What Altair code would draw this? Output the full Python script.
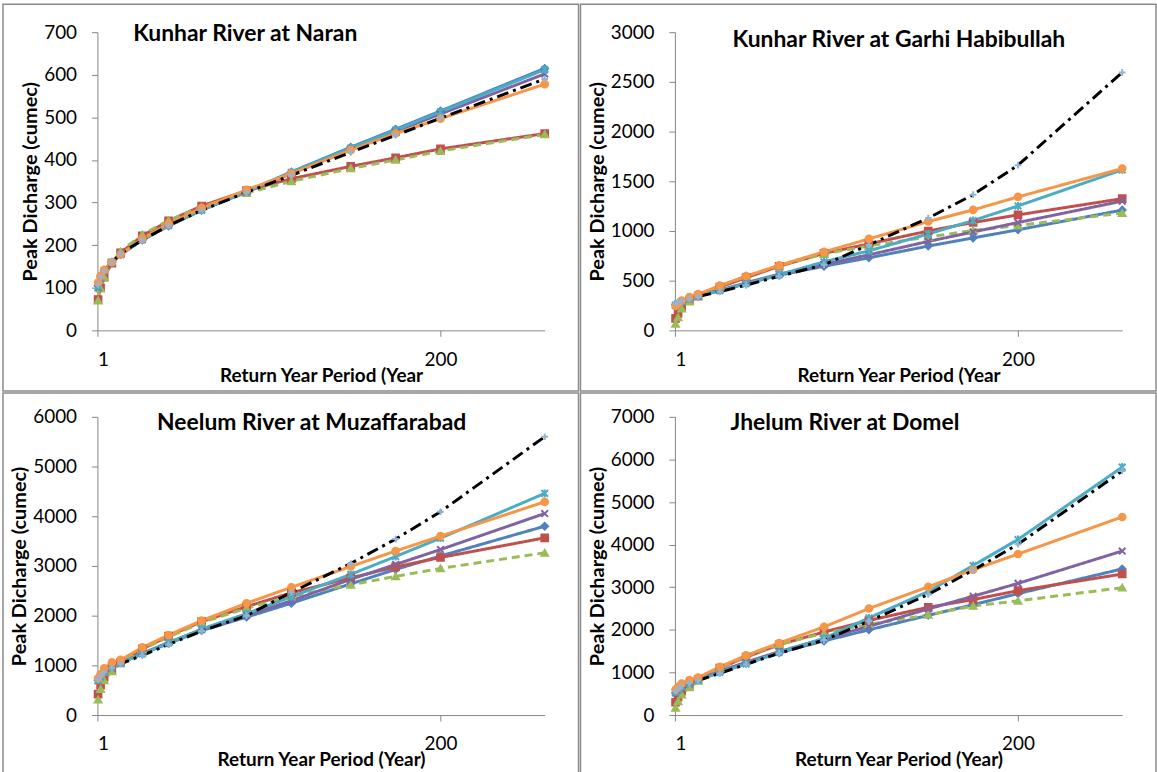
import altair as alt
import pandas as pd

# Return periods (years)
T = [1.01, 1.05, 1.11, 1.25, 1.43, 2, 3, 5, 10, 20, 50, 100, 200, 1000]

SERIES = ["Series 1", "Series 2", "Series 3", "Series 4", "Series 5", "Series 6", "Series 7"]
LINE_COLORS = ["#4F81BD", "#C0504D", "#9BBB59", "#8064A2", "#4BACC6", "#F79646", "#000000"]
MARKER_COLORS = ["#4F81BD", "#C0504D", "#9BBB59", "#8064A2", "#4BACC6", "#F79646", "#95B3D7"]
DASHES = [[1, 0], [1, 0], [8, 5], [1, 0], [1, 0], [1, 0], [12, 5, 3, 5]]
SHAPES = ["diamond", "square", "triangle-up",
          "M-1,-1L1,1M-1,1L1,-1",
          "M-1,-1L1,1M-1,1L1,-1M0,-1.2L0,1.2",
          "circle",
          "M-1,0L1,0M0,-1L0,1"]

# Kunhar River at Naran
naran = {
    "Series 1": [105, 125, 140, 160, 178, 212, 245, 282, 326, 372, 430, 472, 515, 615],
    "Series 2": [72, 100, 125, 158, 182, 222, 257, 292, 328, 356, 385, 405, 426, 462],
    "Series 3": [70, 98, 125, 160, 185, 225, 258, 290, 322, 350, 380, 400, 421, 460],
    "Series 4": [100, 122, 138, 158, 178, 213, 247, 283, 325, 368, 425, 467, 508, 602],
    "Series 5": [103, 124, 140, 160, 178, 213, 246, 282, 326, 371, 428, 470, 513, 612],
    "Series 6": [112, 128, 142, 160, 178, 215, 250, 287, 330, 368, 423, 462, 497, 578],
    "Series 7": [108, 125, 140, 160, 180, 212, 246, 282, 324, 364, 418, 458, 498, 590],
}
# Kunhar River at Garhi Habibullah
garhi = {
    "Series 1": [260, 275, 290, 320, 345, 400, 470, 555, 645, 730, 848, 930, 1012, 1210],
    "Series 2": [120, 170, 230, 300, 345, 435, 530, 645, 775, 870, 1000, 1085, 1162, 1325],
    "Series 3": [65, 130, 220, 290, 350, 445, 545, 650, 770, 850, 940, 1005, 1055, 1180],
    "Series 4": [250, 268, 285, 318, 345, 405, 478, 565, 665, 760, 895, 990, 1085, 1300],
    "Series 5": [255, 272, 290, 318, 345, 400, 470, 560, 690, 800, 970, 1105, 1252, 1615],
    "Series 6": [245, 265, 300, 335, 365, 450, 545, 655, 790, 920, 1095, 1212, 1343, 1628],
    "Series 7": [270, 280, 295, 320, 340, 390, 455, 545, 660, 860, 1130, 1365, 1662, 2595],
}
# Neelum River at Muzaffarabad
neelum = {
    "Series 1": [700, 780, 860, 960, 1050, 1230, 1440, 1700, 1970, 2250, 2640, 2930, 3200, 3800],
    "Series 2": [420, 600, 760, 920, 1060, 1330, 1590, 1880, 2180, 2460, 2760, 2980, 3170, 3565],
    "Series 3": [310, 520, 700, 880, 1040, 1320, 1570, 1860, 2150, 2390, 2620, 2790, 2950, 3265],
    "Series 4": [690, 770, 850, 950, 1045, 1240, 1460, 1720, 2010, 2300, 2730, 3030, 3330, 4055],
    "Series 5": [700, 780, 860, 960, 1050, 1230, 1450, 1730, 2040, 2380, 2830, 3190, 3560, 4460],
    "Series 6": [740, 820, 940, 1060, 1110, 1360, 1610, 1900, 2250, 2570, 2990, 3300, 3600, 4290],
    "Series 7": [720, 790, 860, 950, 1030, 1200, 1420, 1690, 2000, 2470, 3050, 3540, 4090, 5600],
}
# Jhelum River at Domel
domel = {
    "Series 1": [520, 590, 660, 740, 820, 1010, 1210, 1460, 1740, 2000, 2340, 2590, 2850, 3430],
    "Series 2": [300, 420, 560, 700, 830, 1100, 1360, 1650, 1950, 2220, 2530, 2710, 2920, 3310],
    "Series 3": [170, 320, 480, 650, 800, 1110, 1380, 1660, 1920, 2130, 2350, 2560, 2680, 2990],
    "Series 4": [520, 590, 655, 735, 815, 1030, 1240, 1490, 1790, 2080, 2490, 2790, 3090, 3850],
    "Series 5": [540, 600, 665, 745, 820, 1000, 1200, 1470, 1800, 2280, 2900, 3510, 4120, 5820],
    "Series 6": [600, 660, 740, 820, 880, 1130, 1400, 1690, 2070, 2500, 3010, 3410, 3780, 4650],
    "Series 7": [560, 620, 680, 750, 810, 980, 1190, 1450, 1760, 2200, 2830, 3400, 4010, 5730],
}

# title, data, ymax, ystep, x title, title dx, title dy, row top margin
PANELS = [
    ("Kunhar River at Naran", naran, 700, 100, "Return Year Period (Year", 36, 2, 28),
    ("Kunhar River at Garhi Habibullah", garhi, 3000, 500, "Return Year Period (Year", 58, 8, 28),
    ("Neelum River at Muzaffarabad", neelum, 6000, 1000, "Return Year Period (Year)", 60, 6, 24),
    ("Jhelum River at Domel", domel, 7000, 1000, "Return Year Period (Year)", 56, 6, 24),
]

W, H = 450, 300
L, R, CELL_H = 95, 34, 389
FONT = "Lato"


def make_panel(title, data, ymax, ystep, xtitle, tdx, tdy, top):
    rows = []
    for s in SERIES:
        for t, q in zip(T, data[s]):
            rows.append({"series": s, "T": t, "Q": q})
    df = pd.DataFrame(rows)
    base = alt.Chart(df)
    x = alt.X("T:Q",
              scale=alt.Scale(type="log", domain=[1, 1000], nice=False),
              axis=alt.Axis(values=[1, 200], format="d", title=xtitle,
                            tickSize=6, labelPadding=14, titlePadding=-3))
    y = alt.Y("Q:Q",
              scale=alt.Scale(domain=[0, ymax], nice=False),
              axis=alt.Axis(values=list(range(0, ymax + 1, ystep)), format="d",
                            title="Peak Dicharge (cumec)", titleFontSize=20,
                            tickSize=6, labelPadding=15, titlePadding=3))
    lines = base.mark_line(strokeWidth=3).encode(
        x=x, y=y,
        color=alt.Color("series:N", scale=alt.Scale(domain=SERIES, range=LINE_COLORS), legend=None),
        strokeDash=alt.StrokeDash("series:N", scale=alt.Scale(domain=SERIES, range=DASHES), legend=None),
    )
    pts = base.mark_point(filled=True, size=45, strokeWidth=2, opacity=1).encode(
        x=x, y=y,
        fill=alt.Fill("series:N", scale=alt.Scale(domain=SERIES, range=MARKER_COLORS), legend=None),
        stroke=alt.Stroke("series:N", scale=alt.Scale(domain=SERIES, range=MARKER_COLORS), legend=None),
        shape=alt.Shape("series:N", scale=alt.Scale(domain=SERIES, range=SHAPES), legend=None),
    )
    ttl = alt.Chart(alt.Data(values=[{"t": title}])).mark_text(
        align="left", baseline="middle", font=FONT, fontSize=23, fontWeight="bold", color="black"
    ).encode(x=alt.value(tdx), y=alt.value(tdy), text="t:N")
    border = alt.Chart(alt.Data(values=[{"a": 0}])).mark_rect(
        fillOpacity=0, stroke="#8a8a8a", strokeWidth=1.5
    ).encode(x=alt.value(-L), x2=alt.value(W + R), y=alt.value(-top), y2=alt.value(CELL_H - top))
    return alt.layer(border, lines, pts, ttl).properties(width=W, height=H)


charts = [make_panel(*p) for p in PANELS]
chart = alt.concat(*charts, columns=2, spacing=0).resolve_scale(
    x="independent", y="independent"
).properties(
    padding={"left": 2, "top": 1, "right": 0, "bottom": 0},
    background="white",
).configure_view(stroke=None).configure_axis(
    grid=False,
    domainColor="#868686", tickColor="#868686",
    labelFont=FONT, titleFont=FONT,
    labelFontSize=19, titleFontSize=19,
    labelColor="black", titleColor="black",
    titleFontWeight="bold",
)

chart.save("out.html", embed_options={"renderer": "svg", "actions": False})
